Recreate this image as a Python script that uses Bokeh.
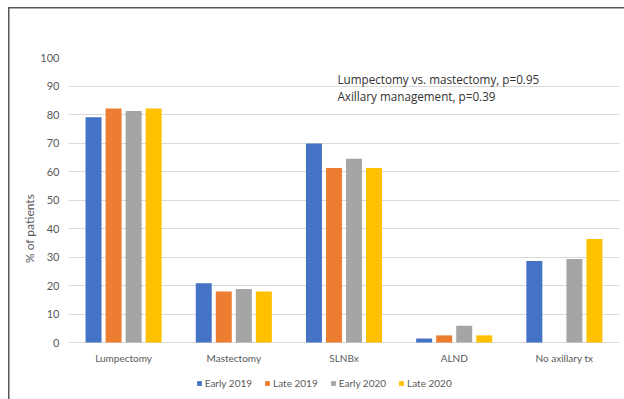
from bokeh.plotting import figure
from bokeh.models import (FactorRange, Range1d, FixedTicker, Legend, LegendItem,
                          Label, ColumnDataSource)
from bokeh.transform import dodge
from bokeh.embed import file_html
from bokeh.resources import INLINE

# Share of patients per procedure, by period
categories = ["Lumpectomy", "Mastectomy", "SLNBx", "ALND", "No axillary tx"]
periods = ["Early 2019", "Late 2019", "Early 2020", "Late 2020"]
early_2019 = [79.0, 20.8, 69.8, 1.4, 28.6]
late_2019 = [82.1, 17.9, 61.2, 2.5, 0.0]
early_2020 = [81.2, 18.8, 64.5, 5.9, 29.3]
late_2020 = [82.1, 17.9, 61.2, 2.5, 36.3]
y_ticks = [0, 10, 20, 30, 40, 50, 60, 70, 80, 90, 100]
notes = ["Lumpectomy vs. mastectomy, p=0.95", "Axillary management, p=0.39"]

colors = ["#4472C4", "#ED7D31", "#A5A5A5", "#FFC000"]
offsets = [-0.2727, -0.0909, 0.0909, 0.2727]

FONT = "Lato"
TXT = "#595959"
EDGE = "#555555"

source = ColumnDataSource(dict(cat=categories,
                               s0=early_2019, s1=late_2019,
                               s2=early_2020, s3=late_2020))

# the plotting area runs down to the bottom edge so that the category
# labels and the legend sit inside it, under the zero line
p = figure(width=624, height=399, output_backend="svg", toolbar_location=None,
           x_range=FactorRange(*categories, range_padding=0),
           y_range=Range1d(-20, 100),
           min_border_left=68, min_border_right=5,
           min_border_top=57, min_border_bottom=0)
p.outline_line_color = None
p.background_fill_color = "white"
p.border_fill_color = None

# chart-area frame line along the top and left edges, painted behind the canvas
p.styles = {
    "background-color": "white",
    "background-image": f"linear-gradient({EDGE}, {EDGE}), linear-gradient({EDGE}, {EDGE})",
    "background-size": "620px 1.5px, 1.5px 395px",
    "background-position": "7.5px 7px, 7.5px 7px",
    "background-repeat": "no-repeat",
}

renderers = []
for i, (col, off) in enumerate(zip(colors, offsets)):
    r = p.vbar(x=dodge("cat", off, range=p.x_range), top=f"s{i}", width=0.145,
               source=source, fill_color=col, line_color=None)
    renderers.append(r)

# axes
p.yaxis.ticker = FixedTicker(ticks=y_ticks)
p.yaxis.bounds = (0, 100)
p.yaxis.axis_line_color = None
p.yaxis.major_tick_line_color = None
p.yaxis.minor_tick_line_color = None
p.yaxis.major_tick_out = 0
p.yaxis.major_tick_in = 0
p.yaxis.minor_tick_out = 0
p.yaxis.major_label_standoff = 9
p.yaxis.major_label_text_font = FONT
p.yaxis.major_label_text_font_size = "11px"
p.yaxis.major_label_text_color = TXT
p.yaxis.axis_label = "% of patients"
p.yaxis.axis_label_text_font = FONT
p.yaxis.axis_label_text_font_size = "12px"
p.yaxis.axis_label_text_font_style = "normal"
p.yaxis.axis_label_text_color = TXT
p.yaxis.axis_label_standoff = 0

p.xaxis.fixed_location = 0
p.xaxis.axis_line_color = None
p.xaxis.major_tick_line_color = None
p.xaxis.minor_tick_line_color = None
p.xaxis.major_tick_out = 0
p.xaxis.major_tick_in = 0
p.xaxis.major_label_standoff = 9
p.xaxis.major_label_text_font = FONT
p.xaxis.major_label_text_font_size = "10px"
p.xaxis.major_label_text_color = TXT

p.xgrid.grid_line_color = None
p.ygrid.grid_line_color = "#D9D9D9"
p.ygrid.grid_line_width = 1

# legend under the category labels
legend = Legend(items=[LegendItem(label=lab, renderers=[r]) for lab, r in zip(periods, renderers)],
                orientation="horizontal", location=(127.7, 10),
                glyph_width=6, glyph_height=6, label_standoff=3, spacing=12,
                label_height=12, label_text_font=FONT, label_text_font_size="10px",
                label_text_color=TXT, padding=0, margin=0,
                border_line_color=None, background_fill_alpha=0)
p.add_layout(legend, "center")

# p-value notes
for txt, yv in zip(notes, [92.6, 86.4]):
    p.add_layout(Label(x=2.44, y=yv, text=txt, text_font="Open Sans", text_font_size="11.7px",
                       text_color="#333333", text_baseline="middle"))

open("out.html", "w").write(file_html(p, INLINE))
